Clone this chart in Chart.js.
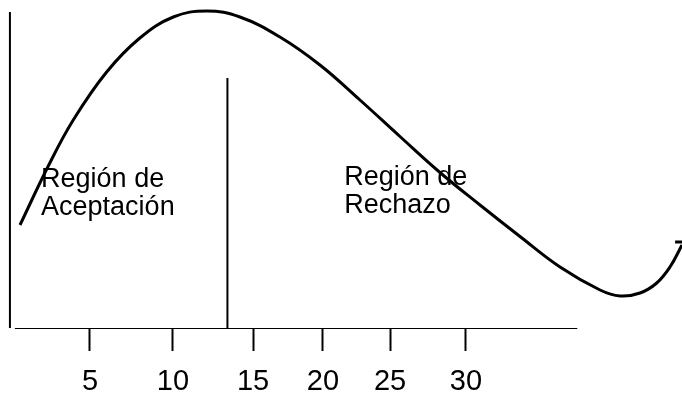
<!DOCTYPE html>
<html>
<head>
<meta charset="utf-8">
<script src="https://cdn.jsdelivr.net/npm/chart.js@4.4.0/dist/chart.umd.min.js"></script>
<style>
  body { margin: 0; background: #fff; }
  #wrap { width: 682px; height: 396px; }
</style>
</head>
<body>
<div id="wrap"><canvas id="graf" width="682" height="396"></canvas></div>
<script>
// curva (x, y)
const curvaX = [0.35, 2.23, 3.89, 6.11, 8.32, 10.54, 12.76, 14.97, 17.63, 20.29, 22.95, 25.61, 28.27, 30.93, 33.59, 36.25, 38.91, 40.24, 41.57, 42.68, 43.56, 44.36];
const curvaY = [10.4, 16.3, 20.9, 25.7, 29.1, 31.2, 31.8, 31.2, 29.2, 26.4, 22.9, 19.25, 15.65, 12.4, 9.25, 6.2, 3.9, 3.3, 3.6, 4.6, 6.2, 8.4];

// marcas del eje x
const marcasX = [5, 10.52, 15.84, 20.49, 24.95, 30];
const etiquetasX = ['5', '10', '15', '20', '25', '30'];

// linea de corte entre regiones
const corteX = 14.14;
const corteY = [-0.2, 25.1];

// ejes dibujados a mano
const ejeYx = -0.32;
const ejeYy = [0.1, 31.7];
const ejeXx = [0.01, 37.4];

// rotulos de las regiones
const regiones = [
  { lineas: ['Región de', 'Aceptación'], x: 1.75, y: [14.2, 11.4] },
  { lineas: ['Región de', 'Rechazo'], x: 21.9, y: [14.4, 11.6] }
];

const FUENTE = '"Liberation Sans", Arial, sans-serif';

const seg = (xs, ys) => xs.map((x, i) => ({ x: x, y: ys[i] }));

const rotulos = {
  id: 'rotulos',
  afterDatasetsDraw(chart) {
    const ctx = chart.ctx;
    const sx = chart.scales.x, sy = chart.scales.y;
    ctx.save();
    ctx.fillStyle = '#000';
    ctx.font = '27px ' + FUENTE;
    ctx.textBaseline = 'alphabetic';
    ctx.textAlign = 'left';
    regiones.forEach(r => {
      r.lineas.forEach((t, i) => {
        ctx.fillText(t, sx.getPixelForValue(r.x), sy.getPixelForValue(r.y[i]));
      });
    });
    ctx.restore();
  }
};

const linea = (data, w) => ({
  data: data,
  borderColor: '#000',
  borderWidth: w,
  pointRadius: 0,
  fill: false,
  tension: 0
});

new Chart('graf', {
  type: 'line',
  data: {
    datasets: [
      Object.assign(linea(seg(curvaX, curvaY), 3), { tension: 0.4 }),
      linea(seg([corteX, corteX], corteY), 2),
      linea(seg([ejeYx, ejeYx], ejeYy), 2),
      linea(seg(ejeXx, [0, 0]), 2),
      linea(seg([43.9, 44.36], [8.7, 8.7]), 3)
    ]
  },
  options: {
    responsive: false,
    animation: false,
    layout: { padding: 0 },
    plugins: { legend: { display: false }, tooltip: { enabled: false } },
    scales: {
      x: {
        type: 'linear',
        min: -0.98,
        max: 44.36,
        afterBuildTicks(scale) {
          scale.ticks = marcasX.map(v => ({ value: v }));
        },
        afterFit(scale) { scale.height = 67; },
        border: { display: false },
        grid: {
          drawOnChartArea: false,
          drawTicks: true,
          tickLength: 22,
          tickWidth: 2,
          tickColor: '#000'
        },
        ticks: {
          autoSkip: false,
          maxRotation: 0,
          padding: 14,
          color: '#000',
          font: { family: FUENTE, size: 29 },
          callback: (v, i) => etiquetasX[i]
        }
      },
      y: {
        display: false,
        min: 0,
        max: 32.9
      }
    }
  },
  plugins: [rotulos]
});
</script>
</body>
</html>
